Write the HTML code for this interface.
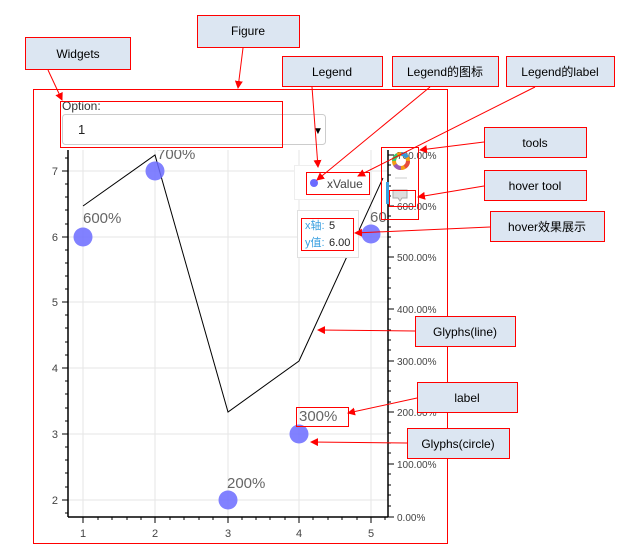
<!DOCTYPE html>
<html><head><meta charset="utf-8"><style>
html,body{margin:0;padding:0;background:#fff;width:630px;height:559px;overflow:hidden}
text{font-family:"Liberation Sans","Noto Sans CJK SC",sans-serif}
</style></head><body>
<svg width="630" height="559" xmlns="http://www.w3.org/2000/svg">
<defs><marker id="a" markerWidth="8" markerHeight="8" refX="7" refY="4" orient="auto" markerUnits="userSpaceOnUse"><path d="M0,0 L8,4 L0,8 z" fill="#f00"/></marker>
<clipPath id="c"><rect x="68" y="150" width="320" height="367"/></clipPath></defs>
<!-- grid -->
<g stroke="#e6e6e6" stroke-width="1">
<line x1="83" y1="150" x2="83" y2="517"/><line x1="155" y1="150" x2="155" y2="517"/><line x1="228" y1="150" x2="228" y2="517"/><line x1="299" y1="150" x2="299" y2="517"/><line x1="371" y1="150" x2="371" y2="517"/>
<line x1="68" y1="171" x2="388" y2="171"/><line x1="68" y1="237" x2="388" y2="237"/><line x1="68" y1="302" x2="388" y2="302"/><line x1="68" y1="368" x2="388" y2="368"/><line x1="68" y1="434" x2="388" y2="434"/><line x1="68" y1="500" x2="388" y2="500"/>
</g>
<!-- axes -->
<g stroke="#000" stroke-width="1.5">
<line x1="68" y1="150" x2="68" y2="517"/><line x1="68" y1="517" x2="388" y2="517"/><line x1="388" y1="150" x2="388" y2="517"/>
</g>
<g stroke="#000" stroke-width="1">
<line x1="62" y1="171" x2="68" y2="171"/><line x1="62" y1="237" x2="68" y2="237"/><line x1="62" y1="302" x2="68" y2="302"/><line x1="62" y1="368" x2="68" y2="368"/><line x1="62" y1="434" x2="68" y2="434"/><line x1="62" y1="500" x2="68" y2="500"/>
<line x1="83" y1="517" x2="83" y2="523"/><line x1="155" y1="517" x2="155" y2="523"/><line x1="228" y1="517" x2="228" y2="523"/><line x1="299" y1="517" x2="299" y2="523"/><line x1="371" y1="517" x2="371" y2="523"/>
<line x1="388" y1="155" x2="394" y2="155"/><line x1="388" y1="206" x2="394" y2="206"/><line x1="388" y1="257" x2="394" y2="257"/><line x1="388" y1="309" x2="394" y2="309"/><line x1="388" y1="361" x2="394" y2="361"/><line x1="388" y1="412" x2="394" y2="412"/><line x1="388" y1="464" x2="394" y2="464"/><line x1="388" y1="517" x2="394" y2="517"/>
</g>
<g stroke="#000" stroke-width="1">
<path d="M65,158 h3 M65,184 h3 M65,197 h3 M65,210 h3 M65,224 h3 M65,250 h3 M65,263 h3 M65,276 h3 M65,289 h3 M65,315 h3 M65,328 h3 M65,342 h3 M65,355 h3 M65,381 h3 M65,394 h3 M65,408 h3 M65,421 h3 M65,447 h3 M65,460 h3 M65,473 h3 M65,487 h3 M65,513 h3"/>
<path d="M98,517 v3 M112,517 v3 M127,517 v3 M141,517 v3 M170,517 v3 M184,517 v3 M199,517 v3 M213,517 v3 M242,517 v3 M256,517 v3 M270,517 v3 M285,517 v3 M313,517 v3 M328,517 v3 M342,517 v3 M357,517 v3 M385,517 v3"/>
<path d="M388,165 h3 M388,175 h3 M388,186 h3 M388,196 h3 M388,216 h3 M388,227 h3 M388,237 h3 M388,247 h3 M388,268 h3 M388,278 h3 M388,288 h3 M388,299 h3 M388,319 h3 M388,330 h3 M388,340 h3 M388,350 h3 M388,371 h3 M388,381 h3 M388,391 h3 M388,402 h3 M388,422 h3 M388,433 h3 M388,443 h3 M388,453 h3 M388,474 h3 M388,485 h3 M388,495 h3 M388,506 h3"/>
</g>
<g font-size="11" fill="#444" text-anchor="end">
<text x="58" y="175">7</text><text x="58" y="241">6</text><text x="58" y="306">5</text><text x="58" y="372">4</text><text x="58" y="438">3</text><text x="58" y="504">2</text>
</g>
<g font-size="11" fill="#444" text-anchor="middle">
<text x="83" y="537">1</text><text x="155" y="537">2</text><text x="228" y="537">3</text><text x="299" y="537">4</text><text x="371" y="537">5</text>
</g>
<g font-size="10" fill="#444">
<text x="397" y="159">700.00%</text><text x="397" y="210">600.00%</text><text x="397" y="261">500.00%</text><text x="397" y="313">400.00%</text><text x="397" y="365">300.00%</text><text x="397" y="416">200.00%</text><text x="397" y="468">100.00%</text><text x="397" y="521">0.00%</text>
</g>
<g clip-path="url(#c)">
<polyline points="83,206 155,155 228,412 299,361 383,178" fill="none" stroke="#000" stroke-width="1"/>
<g fill="#6b6bff" fill-opacity="0.85">
<circle cx="83" cy="237" r="9.5"/><circle cx="155" cy="171" r="9.5"/><circle cx="228" cy="500" r="9.5"/><circle cx="299" cy="434" r="9.5"/><circle cx="371" cy="234" r="9.5"/>
</g>
<g font-size="15" fill="#666">
<text x="83" y="223">600%</text><text x="157" y="159">700%</text><text x="227" y="488">200%</text><text x="299" y="421">300%</text><text x="370" y="222">60</text>
</g>
</g>
<!-- widget -->
<text x="62" y="110" font-size="12" fill="#333">Option:</text>
<rect x="62.5" y="114.5" width="263" height="30" rx="3" fill="#fff" stroke="#ccc"/>
<text x="78" y="134" font-size="13" fill="#222">1</text>
<text x="313" y="134" font-size="10" fill="#000">▼</text>
<!-- legend -->
<rect x="294.5" y="165.5" width="76" height="34" fill="#fff" stroke="#eee"/>
<circle cx="314" cy="183" r="4" fill="#6b6bff"/>
<text x="327" y="188" font-size="12" fill="#444">xValue</text>
<!-- tooltip -->
<rect x="297.5" y="210.5" width="61" height="47" fill="#fff" stroke="#e0e0e0"/>
<text x="305" y="229" font-size="11" fill="#3aa0e0">x轴:</text><text x="329" y="229" font-size="11" fill="#222">5</text>
<text x="305" y="246" font-size="11" fill="#3aa0e0">y值:</text><text x="329" y="246" font-size="11" fill="#222">6.00</text>
<!-- toolbar -->
<rect x="386" y="182" width="3" height="22" fill="#3aa0e0"/>
<g transform="translate(401,161)" fill="none" stroke-width="4">
<circle r="7" stroke="#f39c12"/>
<circle r="7" stroke="#e74c3c" stroke-dasharray="7 37"/>
<circle r="7" stroke="#9b59b6" stroke-dasharray="7 37" stroke-dashoffset="-11"/>
<circle r="7" stroke="#2ecc71" stroke-dasharray="7 37" stroke-dashoffset="-22"/>
<circle r="7" stroke="#3498db" stroke-dasharray="7 37" stroke-dashoffset="-33"/>
</g>
<line x1="395" y1="178" x2="407" y2="178" stroke="#ccc"/>
<path d="M393,190 h14 v8 h-5 l-2,3 l-2,-3 h-5 z" fill="#ddd" stroke="#aaa"/>
<!-- red frames -->
<g fill="none" stroke="#f00" stroke-width="1">
<rect x="33.5" y="89.5" width="414" height="454"/>
<rect x="60.5" y="101.5" width="222" height="46"/>
<rect x="306.5" y="172.5" width="63" height="22"/>
<rect x="381.5" y="147.5" width="37" height="72"/>
<rect x="389.5" y="190.5" width="26" height="16"/>
<rect x="301.5" y="218.5" width="52" height="32"/>
<rect x="296.5" y="407.5" width="52" height="19"/>
</g>
<!-- callouts -->
<g fill="#dce6f2" stroke="#f00" stroke-width="1">
<rect x="25.5" y="37.5" width="105" height="32"/>
<rect x="197.5" y="15.5" width="102" height="32"/>
<rect x="282.5" y="56.5" width="100" height="30"/>
<rect x="392.5" y="56.5" width="106" height="30"/>
<rect x="506.5" y="56.5" width="108" height="30"/>
<rect x="484.5" y="127.5" width="102" height="30"/>
<rect x="484.5" y="170.5" width="102" height="30"/>
<rect x="490.5" y="211.5" width="114" height="30"/>
<rect x="415.5" y="316.5" width="100" height="30"/>
<rect x="417.5" y="382.5" width="100" height="30"/>
<rect x="407.5" y="428.5" width="102" height="30"/>
</g>
<g font-size="12" fill="#000" text-anchor="middle">
<text x="78" y="58">Widgets</text>
<text x="248" y="35">Figure</text>
<text x="332" y="76">Legend</text>
<text x="445" y="76">Legend的图标</text>
<text x="560" y="76">Legend的label</text>
<text x="535" y="147">tools</text>
<text x="535" y="190">hover tool</text>
<text x="547" y="231">hover效果展示</text>
<text x="465" y="336">Glyphs(line)</text>
<text x="467" y="402">label</text>
<text x="458" y="448">Glyphs(circle)</text>
</g>
<g stroke="#f00" stroke-width="1" marker-end="url(#a)">
<line x1="48" y1="70" x2="62" y2="100"/>
<line x1="243" y1="48" x2="238" y2="88"/>
<line x1="312" y1="87" x2="318" y2="167"/>
<line x1="430" y1="87" x2="317" y2="180"/>
<line x1="535" y1="87" x2="358" y2="176"/>
<line x1="484" y1="142" x2="420" y2="150"/>
<line x1="484" y1="186" x2="418" y2="197"/>
<line x1="490" y1="227" x2="355" y2="233"/>
<line x1="415" y1="331" x2="318" y2="330"/>
<line x1="417" y1="398" x2="348" y2="413"/>
<line x1="407" y1="443" x2="311" y2="442"/>
</g>
</svg>
</body></html>
